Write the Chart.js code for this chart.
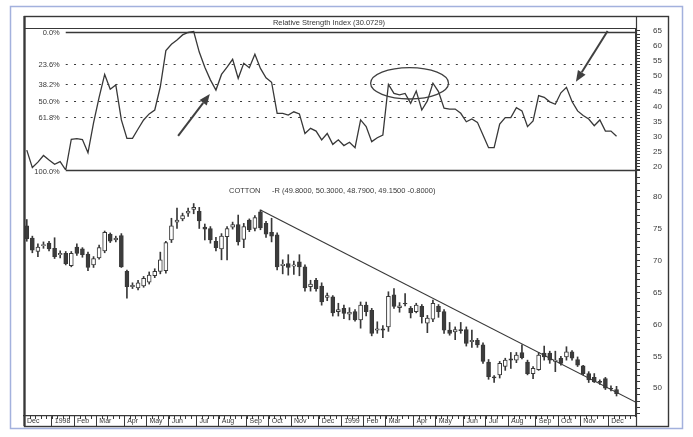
<!DOCTYPE html>
<html>
<head>
<meta charset="utf-8">
<script src="https://cdn.jsdelivr.net/npm/chart.js@4"></script>
<style>
    html, body { margin: 0; padding: 0; background: #fff; }
    #wrap { width: 693px; height: 437px; }
</style>
</head>
<body>
<div id="wrap"><canvas id="cottonChart" width="693" height="437"></canvas></div>
<script>
// weekly bars (Monday of the week), last three weeks are empty room on the axis
var weeks = [
    '1997-12-01','1997-12-08','1997-12-15','1997-12-22','1997-12-29',
    '1998-01-05','1998-01-12','1998-01-19','1998-01-26',
    '1998-02-02','1998-02-09','1998-02-16','1998-02-23',
    '1998-03-02','1998-03-09','1998-03-16','1998-03-23','1998-03-30',
    '1998-04-06','1998-04-13','1998-04-20','1998-04-27',
    '1998-05-04','1998-05-11','1998-05-18','1998-05-25',
    '1998-06-01','1998-06-08','1998-06-15','1998-06-22','1998-06-29',
    '1998-07-06','1998-07-13','1998-07-20','1998-07-27',
    '1998-08-03','1998-08-10','1998-08-17','1998-08-24','1998-08-31',
    '1998-09-07','1998-09-14','1998-09-21','1998-09-28',
    '1998-10-05','1998-10-12','1998-10-19','1998-10-26',
    '1998-11-02','1998-11-09','1998-11-16','1998-11-23','1998-11-30',
    '1998-12-07','1998-12-14','1998-12-21','1998-12-28',
    '1999-01-04','1999-01-11','1999-01-18','1999-01-25',
    '1999-02-01','1999-02-08','1999-02-15','1999-02-22',
    '1999-03-01','1999-03-08','1999-03-15','1999-03-22','1999-03-29',
    '1999-04-05','1999-04-12','1999-04-19','1999-04-26',
    '1999-05-03','1999-05-10','1999-05-17','1999-05-24','1999-05-31',
    '1999-06-07','1999-06-14','1999-06-21','1999-06-28',
    '1999-07-05','1999-07-12','1999-07-19','1999-07-26',
    '1999-08-02','1999-08-09','1999-08-16','1999-08-23','1999-08-30',
    '1999-09-06','1999-09-13','1999-09-20','1999-09-27',
    '1999-10-04','1999-10-11','1999-10-18','1999-10-25',
    '1999-11-01','1999-11-08','1999-11-15','1999-11-22','1999-11-29',
    '1999-12-06','1999-12-13','1999-12-20','1999-12-27'
];

var monthTicks = ['Dec','1998','Feb','Mar','Apr','May','Jun','Jul','Aug','Sep','Oct','Nov','Dec',
                  '1999','Feb','Mar','Apr','May','Jun','Jul','Aug','Sep','Oct','Nov','Dec'];

var open = [
    75.4,73.5,71.4,72.3,72.7,71.9,70.9,71.1,69.2,72.1,71.8,71.0,69.3,70.4,71.5,74.1,73.2,73.9,68.3,65.9,
    65.7,66.0,66.6,67.6,68.3,68.4,73.2,76.0,76.5,77.4,78.0,77.7,75.2,75.0,73.0,71.8,73.7,75.2,75.6,73.3,
    76.3,75.0,77.6,75.8,74.4,74.0,69.2,69.5,69.1,69.8,69.0,65.9,66.9,66.0,64.2,64.3,62.0,62.5,61.6,62.0,
    60.7,63.0,62.2,59.1,59.3,59.6,64.6,62.6,63.3,62.5,62.0,62.8,60.2,60.8,62.8,62.0,59.1,58.8,59.2,59.2,
    57.3,57.5,56.8,54.1,51.8,52.1,53.4,54.6,54.4,55.6,54.1,52.3,52.9,55.5,55.5,54.2,54.7,54.9,55.7,54.5,
    53.5,52.3,51.7,51.1,51.5,50.0,49.8
];
var high = [
    76.4,73.8,72.6,72.9,73.0,73.55,71.5,71.4,71.4,72.6,72.0,71.3,70.6,72.4,74.6,74.3,73.8,74.2,68.5,66.5,
    66.9,67.5,68.2,68.7,71.3,73.0,76.6,78.2,77.4,78.2,78.9,78.3,75.7,75.3,73.6,74.2,75.3,76.0,77.1,75.8,
    76.5,77.0,77.9,76.1,76.6,74.3,70.1,70.9,69.9,70.9,69.3,66.9,67.2,66.5,64.9,64.5,63.3,63.0,62.6,62.3,
    63.5,63.5,62.5,60.4,59.8,65.1,65.6,63.4,64.8,62.8,63.3,63.1,61.4,63.8,63.1,62.3,60.3,59.6,60.3,59.6,
    59.1,57.8,57.1,54.5,52.0,54.2,54.7,55.6,55.6,56.8,54.4,53.4,55.6,56.6,55.8,55.8,55.0,56.5,55.9,54.9,
    53.6,52.6,52.3,51.3,51.7,50.4,50.3
];
var low = [
    73.0,71.2,70.6,71.9,71.5,70.3,70.4,69.3,69.0,70.8,70.5,68.4,68.9,70.2,71.2,72.8,72.9,68.9,64.1,65.6,
    65.4,65.8,66.3,67.3,67.9,68.0,72.8,75.0,76.2,76.9,77.3,75.0,73.2,72.7,71.5,70.1,70.1,74.9,72.4,72.0,
    74.5,74.6,74.8,73.6,72.9,68.5,67.9,67.7,67.8,67.6,65.2,65.2,65.2,63.0,63.7,61.3,61.3,60.9,60.7,60.5,
    59.4,61.3,58.2,58.6,57.9,58.9,62.5,61.9,62.9,61.0,61.8,60.2,58.7,60.4,61.1,58.6,58.3,57.6,58.6,56.6,
    56.4,56.4,53.9,51.4,50.9,51.6,52.8,53.1,54.0,54.6,52.1,51.5,52.8,54.4,53.9,52.6,53.6,54.4,54.4,53.4,
    52.1,50.9,50.9,50.6,49.8,49.6,48.79
];
var close = [
    73.4,71.6,72.1,72.5,71.8,70.6,71.1,69.5,71.1,71.1,70.9,68.9,70.3,72.0,74.4,73.0,73.5,69.0,65.9,66.1,
    66.5,67.2,67.7,68.3,70.1,72.8,75.4,76.3,77.0,77.7,78.3,76.2,74.9,73.2,72.0,73.8,75.0,75.6,72.9,75.3,
    74.8,76.7,75.1,74.1,73.8,69.0,69.4,68.9,69.3,69.0,65.7,66.3,65.6,63.5,64.5,61.8,62.3,61.7,61.9,60.7,
    63.0,62.0,58.6,59.3,59.1,64.4,62.8,62.9,63.2,61.8,63.0,61.2,61.0,63.3,62.0,59.1,58.6,59.2,59.0,57.0,
    57.5,56.8,54.2,51.8,51.6,53.9,54.4,54.4,55.2,54.8,52.3,53.1,55.2,54.9,54.4,54.4,53.9,55.7,54.7,53.6,
    52.3,51.3,51.0,50.9,50.0,49.95,49.15
];

var rsi = [
    25.5,19.7,21.5,23.7,22.2,20.8,21.7,18.9,29.1,29.3,29.0,24.6,34.5,43.0,50.6,45.7,47.1,35.5,29.4,29.4,
    32.5,35.5,37.5,38.8,46.5,58.5,60.6,62.0,63.7,64.5,64.8,58.0,53.0,48.8,45.4,50.6,53.0,55.6,49.3,54.3,
    52.8,57.3,52.6,49.5,48.0,37.7,37.7,37.1,38.2,37.5,31.0,32.7,31.8,28.9,31.0,27.4,28.9,27.0,28.1,26.3,
    35.5,33.3,28.3,29.6,30.5,47.3,44.3,43.8,44.3,41.0,45.1,38.8,41.8,47.7,44.9,39.4,39.1,39.1,37.7,34.9,
    35.8,34.7,30.5,26.3,26.3,34.1,36.3,36.3,39.6,38.5,33.3,35.2,43.6,43.0,41.5,40.7,44.5,46.3,41.6,38.5,
    37.0,35.8,33.6,35.5,31.8,31.8,30.0729
];

var fibLevels = [0, 23.6, 38.2, 50, 61.8, 100];

// trendline touching the highs, in [week index, price]
var trendLine = [{x: 42, y: 77.9}, {x: 109.5, y: 47.8}];

// hand-drawn marks on the RSI panel, in [week index, RSI value]
var arrowMarks = [
    {from: [27.2, 30.2], to: [32.9, 44.1]},
    {from: [104.4, 65.0], to: [98.7, 48.2]}
];
var ellipseMarks = [{x: 68.8, y: 47.65, rx: 7.0, ry: 5.2}];

var FONT = "'Liberation Sans', Arial, sans-serif";
var INK = '#383838';

function drawArrow(c, x1, y1, x2, y2) {
    var ang = Math.atan2(y2 - y1, x2 - x1), len = 11, half = 4.5;
    var bx = x2 - len * Math.cos(ang), by = y2 - len * Math.sin(ang);
    c.beginPath(); c.moveTo(x1, y1); c.lineTo(bx, by); c.stroke();
    c.beginPath(); c.moveTo(x2, y2);
    c.lineTo(bx + half * Math.sin(ang), by - half * Math.cos(ang));
    c.lineTo(bx - half * Math.sin(ang), by + half * Math.cos(ang));
    c.closePath(); c.fill();
}

var decorPlugin = {
    id: 'decor',
    beforeDraw: chart => {
        var c = chart.ctx;
        c.save();
        c.fillStyle = '#fff';
        c.fillRect(0, 0, chart.width, chart.height);
        c.restore();
    },
    beforeDatasetsDraw: chart => {
        // fibonacci retracement of the RSI swing, from the low to the right edge
        var c = chart.ctx, xs = chart.scales.x, yr = chart.scales.yR, area = chart.chartArea;
        var hi = Math.max.apply(null, rsi), lo = Math.min.apply(null, rsi);
        var x0 = xs.getPixelForValue(rsi.indexOf(lo));
        c.save();
        c.strokeStyle = INK;
        c.fillStyle = INK;
        c.font = '7.5px ' + FONT;
        c.textAlign = 'right';
        c.textBaseline = 'middle';
        fibLevels.forEach(p => {
            var y = Math.round(yr.getPixelForValue(hi - p / 100 * (hi - lo))) + 0.5;
            var solid = p === 0 || p === 100;
            c.lineWidth = solid ? 1.6 : 1.2;
            c.setLineDash(solid ? [] : [2, 6.3]);
            c.beginPath(); c.moveTo(x0, y); c.lineTo(area.right, y); c.stroke();
            c.fillText(p.toFixed(1) + '%', x0 - 6, y + (p === 100 ? 1.5 : 0));
        });
        c.restore();
    },
    afterDatasetsDraw: chart => {
        var c = chart.ctx, xs = chart.scales.x, yr = chart.scales.yR;
        c.save();
        c.strokeStyle = '#404040';
        c.fillStyle = '#404040';
        c.lineWidth = 2;
        arrowMarks.forEach(a => {
            drawArrow(c, xs.getPixelForValue(a.from[0]), yr.getPixelForValue(a.from[1]),
                xs.getPixelForValue(a.to[0]), yr.getPixelForValue(a.to[1]));
        });
        c.lineWidth = 1.3;
        ellipseMarks.forEach(e => {
            var cx = xs.getPixelForValue(e.x), cy = yr.getPixelForValue(e.y);
            var rx = Math.abs(xs.getPixelForValue(e.x + e.rx) - cx);
            var ry = Math.abs(yr.getPixelForValue(e.y + e.ry) - cy);
            c.beginPath(); c.ellipse(cx, cy, rx, ry, 0, 0, Math.PI * 2); c.stroke();
        });
        c.restore();
    },
    afterDraw: chart => {
        var c = chart.ctx, xs = chart.scales.x, area = chart.chartArea;
        var frameL = 24, frameT = 16, frameR = 668, frameB = 426;
        c.save();
        // outer page border
        c.strokeStyle = '#a3b1dd';
        c.lineWidth = 1.5;
        c.strokeRect(10.5, 6.5, 672, 422);
        // chart frame
        c.strokeStyle = INK;
        c.lineWidth = 1.4;
        c.strokeRect(frameL + 0.5, frameT + 0.5, frameR - frameL, frameB - frameT);
        c.beginPath(); c.moveTo(frameL + 0.5, frameT); c.lineTo(frameL + 0.5, frameB); c.lineWidth = 2.2; c.stroke();
        // right axis line full height
        c.lineWidth = 1.2;
        c.beginPath(); c.moveTo(area.right + 0.5, frameT); c.lineTo(area.right + 0.5, frameB); c.stroke();
        // title strip
        c.lineWidth = 1;
        c.beginPath(); c.moveTo(frameL, area.top - 0.5); c.lineTo(area.right, area.top - 0.5); c.stroke();
        c.fillStyle = INK;
        c.font = '7.5px ' + FONT;
        c.textBaseline = 'middle';
        c.textAlign = 'center';
        c.fillText('Relative Strength Index (' + rsi[rsi.length - 1].toFixed(4) + ')', 329, 22.5);
        // price caption from the last bar
        var n = close.length - 1;
        var chg = close[n] - close[n - 1];
        c.textAlign = 'left';
        c.fillText('COTTON', 229, 190.5);
        c.fillText('-R (' + [open[n], high[n], low[n], close[n]].map(v => v.toFixed(4)).join(', ') +
            ' ' + chg.toFixed(4) + ')', 272, 190.5);
        // weekly ticks on the date strip
        c.lineWidth = 1;
        for (var i = 0; i <= weeks.length; i++) {
            var x = Math.round(xs.getPixelForValue(i - 0.5)) + 0.5;
            c.beginPath(); c.moveTo(x, area.bottom); c.lineTo(x, area.bottom + 3); c.stroke();
        }
        c.restore();
    }
};

var CottonChart = {
    monthStarts: [],

    init:()=>{
        Chart.defaults.font.family = FONT;
        Chart.defaults.color = INK;
        weeks.forEach((w, i) => {
            if (i === 0 || w.slice(5, 7) !== weeks[i - 1].slice(5, 7))
                CottonChart.monthStarts.push(i);
        });
        CottonChart.genChart();
    },
    yAxis:(weight, min, max)=>{
        return {
            type: 'linear',
            position: 'right',
            stack: 'panels',
            stackWeight: weight,
            min: min,
            max: max,
            afterFit: s => { s.width = 32; s.paddingTop = 0; s.paddingBottom = 0; },
            ticks: {
                stepSize: 1,
                includeBounds: false,
                autoSkip: false,
                padding: 13,
                color: INK,
                font: { size: 8 },
                callback: v => (v % 5 === 0 ? v : '')
            },
            grid: { drawOnChartArea: false, tickLength: 4, tickColor: INK, tickWidth: 1 },
            border: { color: INK, width: 1.2 }
        };
    },
    genChart:()=>{
        var ctx = document.getElementById('cottonChart');

        new Chart(ctx, {
            type: 'bar',
            data: {
                datasets: [
                    {
                        label: 'Body',
                        data: open.map((o, i) => ({x: i, y: [o, close[i]]})),
                        yAxisID: 'yP',
                        grouped: false,
                        barThickness: 4,
                        borderSkipped: false,
                        borderWidth: 1,
                        borderColor: INK,
                        backgroundColor: c => (close[c.dataIndex] < open[c.dataIndex] ? '#3c3c3c' : '#ffffff')
                    },
                    {
                        label: 'Range',
                        data: low.map((l, i) => ({x: i, y: [l, high[i]]})),
                        yAxisID: 'yP',
                        grouped: false,
                        barThickness: 1,
                        borderWidth: 0,
                        backgroundColor: INK
                    },
                    {
                        type: 'line',
                        label: 'RSI',
                        data: rsi.map((v, i) => ({x: i, y: v})),
                        yAxisID: 'yR',
                        borderColor: INK,
                        borderWidth: 1.3,
                        pointRadius: 0,
                        tension: 0
                    },
                    {
                        type: 'line',
                        label: 'Trend',
                        data: trendLine,
                        yAxisID: 'yP',
                        borderColor: INK,
                        borderWidth: 1.2,
                        pointRadius: 0
                    }
                ]
            },
            options: {
                responsive: false,
                animation: false,
                layout: { padding: { left: 24, right: 25, top: 29, bottom: 11 } },
                plugins: {
                    legend: { display: false },
                    tooltip: { enabled: false }
                },
                scales: {
                    x: {
                        type: 'linear',
                        offset: false,
                        min: -0.5,
                        max: weeks.length + 0.5,
                        afterBuildTicks: s => { s.ticks = CottonChart.monthStarts.map(i => ({value: i - 0.5})); },
                        afterFit: s => { s.height = 10; s.paddingLeft = 0; s.paddingRight = 0; },
                        ticks: {
                            autoSkip: false,
                            maxRotation: 0,
                            minRotation: 0,
                            align: 'start',
                            labelOffset: 3,
                            padding: -9,
                            color: INK,
                            font: { size: 7 },
                            callback: (v, i) => monthTicks[i]
                        },
                        grid: { offset: false, drawOnChartArea: false, tickLength: 10, tickColor: INK, tickWidth: 1 },
                        border: { color: INK, width: 1.2 }
                    },
                    yR: CottonChart.yAxis(141, 18.9, 65.66),
                    yP: CottonChart.yAxis(246, 45.66, 84.15)
                }
            },
            plugins: [decorPlugin]
        });
    }
};

CottonChart.init();
</script>
</body>
</html>
